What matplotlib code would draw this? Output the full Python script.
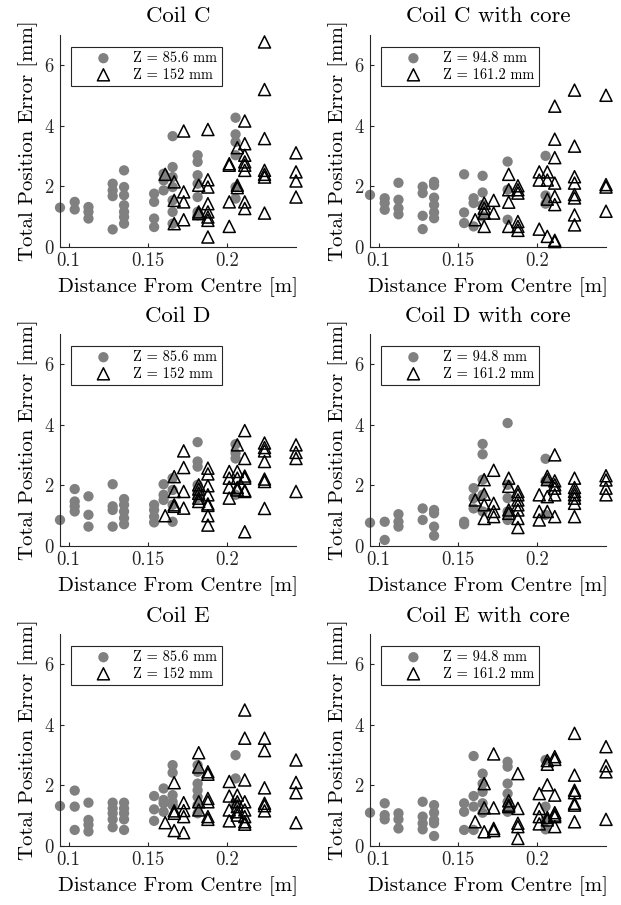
import matplotlib
matplotlib.use("Agg")
import matplotlib.pyplot as plt

plt.rcParams['font.family'] = 'serif'
plt.rcParams['font.serif'] = ['cmr10', 'DejaVu Serif']
plt.rcParams['mathtext.fontset'] = 'cm'
plt.rcParams['axes.formatter.use_mathtext'] = True

# distance columns (m) for the two marker groups
circ_x = [0.0945, 0.1038, 0.1125, 0.1278, 0.1350, 0.1540, 0.1600, 0.1657, 0.1815, 0.2055]
tri_x = [0.1610, 0.1667, 0.1727, 0.1822, 0.1880, 0.2015, 0.2066, 0.2113, 0.2238, 0.2437]

titles = ['Coil C', 'Coil C with core', 'Coil D', 'Coil D with core', 'Coil E', 'Coil E with core']
labels_plain = ['Z = 85.6 mm', 'Z = 152 mm']
labels_core = ['Z = 94.8 mm', 'Z = 161.2 mm']

# position errors (mm), one list per distance column
c_circ = [[1.30], [1.49, 1.24], [1.32, 1.16, 0.94], [2.09, 1.87, 1.68, 0.58],
          [2.53, 1.98, 1.71, 1.38, 1.16, 0.99, 0.77], [1.76, 1.49, 0.94, 0.66],
          [2.42, 2.20, 1.87], [3.66, 2.64, 2.31, 1.98, 1.54, 1.16, 0.77],
          [3.03, 2.81, 2.37, 2.09, 1.65, 1.16, 1.05], [4.27, 3.72, 3.47, 3.03, 1.98, 1.60]]
c_tri = [[2.40], [2.15, 1.54, 0.77], [3.83, 1.82, 1.49, 0.90], [2.04, 1.16, 1.10],
         [3.88, 2.22, 1.98, 1.43, 1.16, 0.99, 0.88, 0.33], [2.75, 2.70, 1.49, 0.68],
         [3.28, 2.04, 1.96], [4.16, 3.41, 3.03, 2.81, 2.70, 2.53, 1.49, 1.27],
         [6.77, 5.20, 3.58, 2.53, 2.40, 2.31, 1.12], [3.11, 2.48, 2.18, 1.65]]

cc_circ = [[1.72], [1.61, 1.45, 1.23], [2.12, 1.56, 1.28, 1.08], [1.99, 1.78, 1.03, 0.59],
           [2.15, 2.04, 1.63, 1.39, 1.14, 0.95], [2.40, 1.14, 0.79], [1.61, 1.45, 0.68],
           [2.35, 1.80, 1.39, 1.01], [2.82, 1.89, 0.90], [3.01, 1.70, 1.43]]
cc_tri = [[0.90], [1.45, 1.28, 1.12, 0.68], [1.54, 1.12], [2.40, 1.89, 1.48, 0.68],
          [2.02, 1.89, 1.78, 0.84, 0.68, 0.55], [2.48, 2.21, 0.59], [2.48, 2.21, 1.58, 0.35],
          [4.65, 3.56, 2.95, 2.11, 1.67, 1.40, 0.22, 0.18],
          [5.18, 3.33, 2.32, 2.11, 1.73, 1.62, 1.06, 0.73], [5.01, 2.06, 1.98, 1.18]]

d_circ = [[0.86], [1.88, 1.47, 1.31, 1.14], [1.64, 1.03, 0.64], [2.04, 1.31, 1.19, 0.64],
          [1.55, 1.36, 1.14, 0.92, 0.72], [1.36, 1.19, 0.97, 0.78], [2.04, 1.69, 1.52],
          [2.24, 1.85, 1.36, 0.80], [3.43, 2.79, 2.62, 2.02, 1.80, 1.58], [3.36, 3.06, 2.89, 1.69]]
d_tri = [[1.00], [2.29, 1.80, 1.36, 1.31], [3.14, 2.59, 1.80, 1.25], [2.02, 1.88, 1.74, 1.58, 1.47],
         [2.57, 2.38, 1.99, 1.69, 1.39, 1.34, 1.00, 0.69], [2.46, 2.24, 1.94, 1.58],
         [3.34, 2.46, 2.24, 1.93, 1.85], [3.81, 2.89, 2.31, 2.24, 1.83, 1.80, 0.47],
         [3.40, 3.25, 3.14, 2.79, 2.21, 2.13, 1.24], [3.34, 3.09, 2.89, 1.80]]

dc_circ = [[0.77], [0.80, 0.20], [1.05, 0.80, 0.64], [1.24, 0.86], [1.19, 1.08, 0.64, 0.34],
           [0.80, 0.72], [1.91, 1.58, 1.24], [3.37, 3.03, 2.19, 1.69, 1.14],
           [4.06, 2.02, 1.58, 1.14, 0.86], [2.88, 2.15, 1.03]]
dc_tri = [[1.52], [2.19, 1.71, 1.36, 0.91], [2.50, 1.41, 1.14, 0.97], [2.24, 1.97, 1.19, 1.08],
          [1.80, 1.69, 1.52, 1.36, 1.19, 0.91, 0.61], [1.69, 1.14, 0.86], [2.30, 2.19, 1.63, 1.14],
          [3.01, 2.15, 2.02, 1.91, 1.69, 0.97], [2.24, 1.93, 1.80, 1.69, 1.58, 1.41, 0.97],
          [2.32, 2.18, 1.91, 1.69]]

e_circ = [[1.32], [1.83, 1.30, 0.53], [1.43, 0.86, 0.70, 0.48], [1.43, 1.24, 1.08, 0.88, 0.62],
          [1.43, 1.24, 1.08, 0.88, 0.53], [1.65, 1.21, 0.83], [1.90, 1.52, 1.41, 1.13],
          [2.67, 2.42, 1.68, 1.46, 1.35], [2.67, 2.45, 2.06, 1.84, 1.62, 1.35, 1.08], [3.00, 2.23, 1.41]]
e_tri = [[0.77], [2.09, 1.16, 1.08, 0.51], [1.43, 1.17, 0.97, 0.44], [3.08, 2.61, 1.46, 1.19],
         [2.45, 2.37, 1.57, 1.46, 0.97, 0.88], [2.13, 1.65, 1.19, 0.83], [1.68, 1.46, 1.30, 1.13, 1.02],
         [4.49, 3.56, 2.18, 1.46, 1.19, 0.97, 0.80, 0.72], [3.56, 3.15, 1.92, 1.41, 1.33, 1.16],
         [2.84, 2.10, 1.76, 0.77]]

ec_circ = [[1.10], [1.41, 1.02, 0.88], [1.08, 0.88, 0.58], [1.46, 0.97, 0.75, 0.55],
           [1.35, 1.10, 0.86, 0.75, 0.33], [1.41, 1.13, 0.53], [2.97, 1.65, 1.30, 0.53],
           [2.39, 2.06, 1.79, 1.41, 1.10], [2.78, 2.62, 2.06, 1.73, 1.46, 1.13], [2.84, 1.30, 0.86, 0.55]]
ec_tri = [[0.80], [2.06, 1.26, 0.47], [3.04, 1.26, 0.58, 0.51], [1.49, 1.35, 1.30],
          [2.39, 1.24, 0.75, 0.64, 0.25], [1.73, 1.24, 0.97, 0.73], [2.82, 2.70, 2.02, 0.94, 0.86],
          [2.95, 2.86, 1.68, 1.10, 1.02, 0.97, 0.64], [3.72, 2.34, 1.84, 1.76, 1.41, 1.35, 0.80],
          [3.28, 2.65, 2.45, 0.88]]

panels = [(c_circ, c_tri), (cc_circ, cc_tri), (d_circ, d_tri),
          (dc_circ, dc_tri), (e_circ, e_tri), (ec_circ, ec_tri)]


def expand(cols, groups):
    xs, ys = [], []
    for x, g in zip(cols, groups):
        xs += [x] * len(g)
        ys += g
    return xs, ys


fig = plt.figure(figsize=(6.21, 9.05), dpi=100)
W, H = 621, 905
lefts = [60, 370]
tops = [35, 334, 634]
aw, ah = 236, 212
axcol = '#262626'

for i, (circ, tri) in enumerate(panels):
    r, c = divmod(i, 2)
    ax = fig.add_axes([lefts[c] / W, 1 - (tops[r] + ah) / H, aw / W, ah / H])
    labs = labels_core if c == 1 else labels_plain
    gx, gy = expand(circ_x, circ)
    tx, ty = expand(tri_x, tri)
    ax.scatter(gx, gy, s=55, color='#808080', edgecolors='none', label=labs[0],
               clip_on=False, zorder=2)
    ax.scatter(tx, ty, s=75, marker='^', facecolors='none', edgecolors='black',
               linewidths=1.1, label=labs[1], clip_on=False, zorder=3)
    ax.set_xlim(0.0945, 0.2437)
    ax.set_ylim(0, 7)
    ax.set_xticks([0.1, 0.15, 0.2])
    ax.set_xticklabels(['0.1', '0.15', '0.2'])
    ax.set_yticks([0, 2, 4, 6])
    for s in ['top', 'right']:
        ax.spines[s].set_visible(False)
    for s in ['left', 'bottom']:
        ax.spines[s].set_color(axcol)
        ax.spines[s].set_linewidth(0.8)
    ax.tick_params(direction='in', length=3, width=0.8, color=axcol, labelsize=13.5,
                   labelcolor='#262626', pad=4)
    ax.set_title(titles[i], fontsize=16.5, pad=9)
    ax.set_xlabel('Distance From Centre [m]', fontsize=15, labelpad=5)
    ax.set_ylabel('Total Position Error [mm]', fontsize=15, labelpad=4)
    leg = ax.legend(loc='upper left', bbox_to_anchor=(0.045, 0.945), borderaxespad=0,
                    fontsize=10.4, frameon=True, fancybox=False, framealpha=1,
                    edgecolor=axcol, handletextpad=0.1, borderpad=0.32,
                    labelspacing=0.2, handlelength=3.9)
    leg.get_frame().set_linewidth(0.8)

fig.savefig('out.png', dpi=100)
